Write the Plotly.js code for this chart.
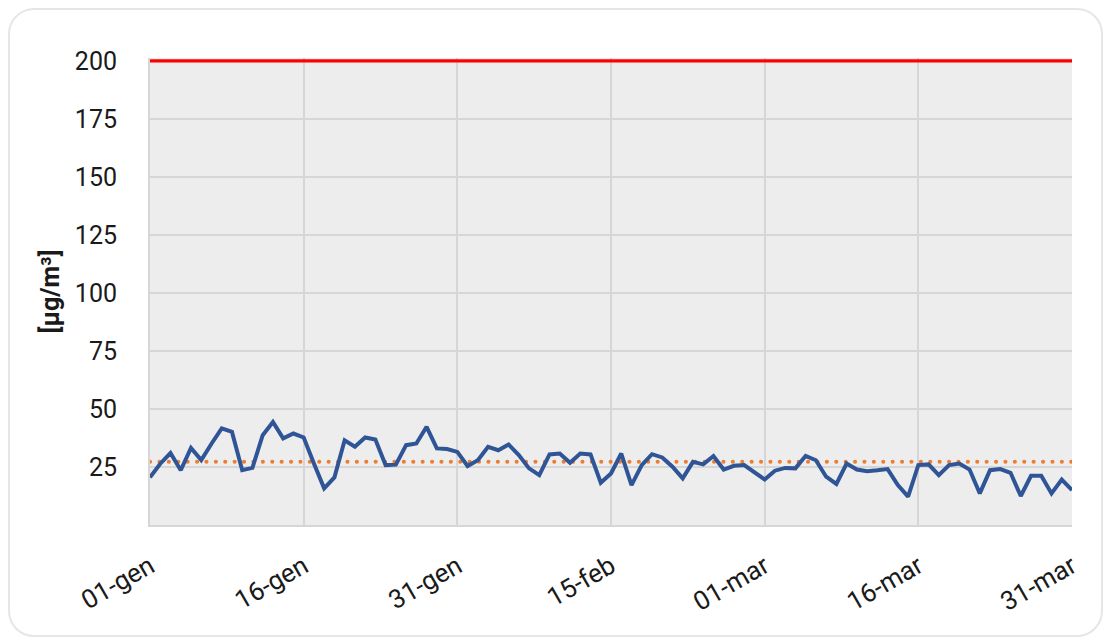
<!DOCTYPE html>
<html>
<head>
<meta charset="utf-8">
<script src="https://cdn.plot.ly/plotly-3.0.1.min.js"></script>
<style>
  html, body { margin: 0; padding: 0; background: #ffffff; width: 1103px; height: 643px; overflow: hidden; }
  #card { position: absolute; left: 8px; top: 8px; width: 1091px; height: 625px; border: 2px solid #e6e6e6; border-radius: 26px; background: #ffffff; }
  #chart { position: absolute; left: 0; top: 0; width: 1103px; height: 643px; }
</style>
</head>
<body>
<div id="card"></div>
<div id="chart"></div>
<script>
// Daily concentration values, 01-gen .. 31-mar (2024)
const startDate = '2024-01-01';
const values = [
  20.5, 26.4, 31.0, 23.6, 33.2, 28.0, 35.0, 41.6, 40.1, 23.6,
  24.6, 38.7, 44.4, 37.3, 39.4, 37.7, 26.5, 15.8, 20.5, 36.5,
  33.7, 37.7, 36.8, 25.8, 26.0, 34.4, 35.1, 42.3, 33.0, 32.7,
  31.5, 25.4, 27.9, 33.7, 32.2, 34.7, 30.1, 24.4, 21.5, 30.4,
  30.8, 26.8, 30.8, 30.4, 18.2, 22.2, 30.8, 17.2, 25.8, 30.5,
  29.1, 25.1, 20.1, 27.2, 26.1, 29.7, 23.9, 25.5, 25.8, 22.5,
  19.6, 23.4, 24.6, 24.4, 29.8, 27.9, 20.8, 17.7, 26.5, 23.9,
  23.2, 23.6, 24.1, 17.2, 12.2, 25.8, 26.1, 21.5, 25.8, 26.5,
  23.9, 13.6, 23.6, 24.1, 22.5, 12.5, 21.2, 21.2, 13.6, 19.6,
  15.0
];
const limitValue = 200;     // red limit line
const meanValue = 27.2;     // orange dotted reference line
const tickDates = ['2024-01-01','2024-01-16','2024-01-31','2024-02-15','2024-03-01','2024-03-16','2024-03-31'];
const tickLabels = ['01-gen','16-gen','31-gen','15-feb','01-mar','16-mar','31-mar'];
const yTicks = [25, 50, 75, 100, 125, 150, 175, 200];
const yTitle = '[µg/m³]';

// build date categories
const dates = values.map((_, i) => {
  const d = new Date(startDate + 'T00:00:00Z');
  d.setUTCDate(d.getUTCDate() + i);
  return d.toISOString().slice(0, 10);
});
const firstLast = [dates[0], dates[dates.length - 1]];

const traces = [
  {
    x: firstLast, y: [meanValue, meanValue], mode: 'lines', type: 'scatter',
    line: { color: '#ED7D31', width: 4, dash: '3px,6px' }, hoverinfo: 'skip', showlegend: false
  },
  {
    x: dates, y: values, mode: 'lines', type: 'scatter',
    line: { color: '#2F5597', width: 4 }, showlegend: false
  },
  {
    x: firstLast, y: [limitValue, limitValue], mode: 'lines', type: 'scatter',
    line: { color: '#FF0000', width: 3.2 }, hoverinfo: 'skip', showlegend: false
  }
];

const layout = {
  width: 1103, height: 643,
  margin: { l: 150, r: 31, t: 58, b: 118 },
  paper_bgcolor: 'rgba(0,0,0,0)',
  plot_bgcolor: '#EDEDED',
  font: { family: 'Roboto, sans-serif', color: '#1a1a1a', size: 24 },
  showlegend: false,
  xaxis: {
    type: 'date',
    range: [firstLast[0], firstLast[1]],
    tickvals: tickDates, ticktext: tickLabels,
    tickangle: -30,
    tickfont: { family: 'Roboto, sans-serif', size: 26, color: '#1a1a1a' },
    showgrid: true, gridcolor: '#D6D6D6', gridwidth: 2,
    showline: true, linecolor: '#D6D6D6', linewidth: 2, mirror: false,
    ticks: 'outside', ticklen: 14, tickcolor: 'rgba(0,0,0,0)', zeroline: false
  },
  yaxis: {
    range: [0, 201.2],
    tickvals: yTicks,
    tickfont: { family: 'Roboto, sans-serif', size: 25, color: '#1a1a1a' },
    showgrid: true, gridcolor: '#D6D6D6', gridwidth: 2,
    showline: true, linecolor: '#D6D6D6', linewidth: 2,
    ticks: 'outside', ticklen: 26, tickcolor: 'rgba(0,0,0,0)',
    zeroline: false,
    title: { text: yTitle, font: { family: 'Roboto, sans-serif', size: 25, color: '#1a1a1a', weight: 'bold' }, standoff: 8 }
  }
};

Plotly.newPlot('chart', traces, layout, { displayModeBar: false, staticPlot: true }).then(gd => {
  const tr = gd.querySelectorAll('.scatterlayer .trace');
  if (tr[0]) {
    const p = tr[0].querySelector('path.js-line');
    if (p) { p.style.strokeLinecap = 'round'; p.style.strokeDasharray = '0.1px,9.3px'; }
  }
});
</script>
</body>
</html>
